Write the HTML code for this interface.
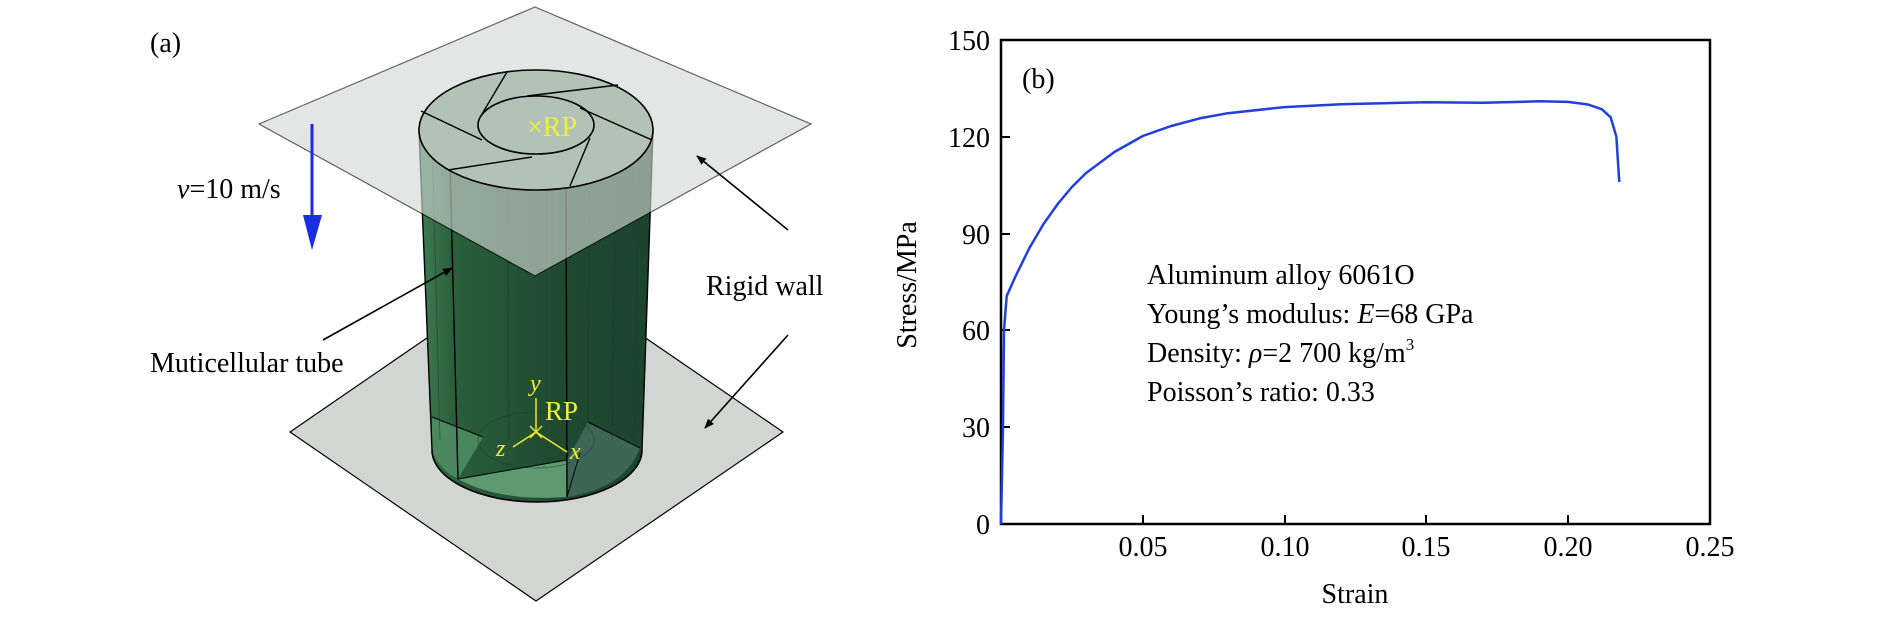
<!DOCTYPE html>
<html><head><meta charset="utf-8"><style>
html,body{margin:0;padding:0;background:#fff;}
svg{display:block;}
text{font-family:"Liberation Serif","DejaVu Serif",serif;}
</style></head><body>
<svg width="1890" height="622" viewBox="0 0 1890 622" xmlns="http://www.w3.org/2000/svg" font-family="Liberation Serif, serif">
<defs>
<linearGradient id="body" x1="0" x2="1" y1="0" y2="0">
<stop offset="0" stop-color="#3f7d52"/><stop offset="0.15" stop-color="#2a5e3c"/><stop offset="0.6" stop-color="#1f4a30"/><stop offset="1" stop-color="#1c4430"/>
</linearGradient>
<marker id="ah" markerWidth="10" markerHeight="8" refX="9" refY="4" orient="auto" markerUnits="userSpaceOnUse">
<path d="M0,0 L10,4 L0,8 z" fill="#000"/>
</marker>
</defs>

<text x="150" y="52" font-size="28">(a)</text>

<!-- lower plate -->
<polygon points="290,432 536,263 783,432 536,601" fill="#d1d6d3" stroke="#000" stroke-width="1.2"/>

<!-- cylinder body -->
<path d="M419,130 L432,450 A105,52 0 0 0 642,450 L653,130 Z" fill="url(#body)"/>
<path d="M432,417 L483,437 L458,479 Q440,470 432,450 Z" fill="#4f8c62" opacity="0.9"/>
<path d="M458,479 L567,460 L567,497 Q500,502 458,479 Z" fill="#5e9a6f"/>
<path d="M567,460 L588,422 L640,448 Q625,488 567,497 Z" fill="#3d6656"/>
<ellipse cx="536" cy="440" rx="58" ry="28" fill="none" stroke="#17392a" stroke-width="0.8" opacity="0.6"/>
<path d="M432,450 A105,52 0 0 0 642,450" fill="none" stroke="#000" stroke-width="1.6"/>
<line x1="432" y1="417" x2="483" y2="437" stroke="#000" stroke-width="1"/>
<line x1="458" y1="479" x2="567" y2="460" stroke="#000" stroke-width="1"/>
<line x1="567" y1="497" x2="580" y2="453" stroke="#000" stroke-width="1"/>
<line x1="588" y1="422" x2="640" y2="448" stroke="#000" stroke-width="1"/>
<line x1="450" y1="165" x2="458" y2="479" stroke="#000" stroke-width="1.4"/>
<line x1="566" y1="185" x2="567" y2="497" stroke="#000" stroke-width="1.4"/>
<g stroke="#1a3a2a" stroke-width="0.7" opacity="0.7">
<line x1="507" y1="72" x2="509" y2="440"/><line x1="617" y1="85" x2="612" y2="440"/>
<line x1="552" y1="100" x2="552" y2="440"/><line x1="590" y1="140" x2="588" y2="422"/>
<line x1="432" y1="140" x2="440" y2="440"/><line x1="640" y1="140" x2="634" y2="440"/>
</g>
<line x1="419" y1="130" x2="432" y2="450" stroke="#000" stroke-width="1.4"/>
<line x1="653" y1="130" x2="642" y2="450" stroke="#000" stroke-width="1.4"/>

<!-- top face -->
<ellipse cx="536" cy="130" rx="117" ry="60" fill="#80a08a"/>

<!-- top plate -->
<polygon points="259,124 535,7 811,124 535,276" fill="#d3d8d4" opacity="0.62" stroke="#000" stroke-width="1.2"/>

<ellipse cx="536" cy="130" rx="117" ry="60" fill="none" stroke="#000" stroke-width="1.6"/>
<ellipse cx="536" cy="125" rx="58" ry="29" fill="none" stroke="#000" stroke-width="1.6"/>
<g stroke="#000" stroke-width="1.4">
<line x1="507" y1="72" x2="482" y2="114"/>
<line x1="618" y1="85" x2="527" y2="96"/>
<line x1="652" y1="140" x2="580" y2="108"/>
<line x1="590" y1="138" x2="570" y2="186"/>
<line x1="448" y1="170" x2="532" y2="157"/>
<line x1="421" y1="111" x2="482" y2="140"/>
</g>
<text x="527" y="136" font-size="28" fill="#f0f030">×RP</text>

<g stroke="#e8e830" stroke-width="1.5">
<line x1="536" y1="398" x2="536" y2="432"/>
<line x1="536" y1="432" x2="513" y2="447"/>
<line x1="536" y1="432" x2="567" y2="452"/>
<line x1="530" y1="426" x2="542" y2="438"/><line x1="542" y1="426" x2="530" y2="438"/>
</g>
<text x="530" y="391" font-size="24" font-style="italic" fill="#f0f030">y</text>
<text x="545" y="420" font-size="27" fill="#f0f030">RP</text>
<text x="496" y="456" font-size="24" font-style="italic" fill="#f0f030">z</text>
<text x="570" y="459" font-size="24" font-style="italic" fill="#f0f030">x</text>

<line x1="312" y1="124" x2="312" y2="218" stroke="#1a2ee0" stroke-width="3"/>
<polygon points="303,215 322,215 312,250" fill="#1a2ee0"/>
<text x="177" y="198" font-size="28"><tspan font-style="italic">v</tspan>=10 m/s</text>

<text x="150" y="372" font-size="28">Muticellular tube</text>
<line x1="323" y1="340" x2="452" y2="268" stroke="#000" stroke-width="1.6" marker-end="url(#ah)"/>
<text x="706" y="295" font-size="28">Rigid wall</text>
<line x1="788" y1="230" x2="697" y2="156" stroke="#000" stroke-width="1.6" marker-end="url(#ah)"/>
<line x1="788" y1="335" x2="705" y2="428" stroke="#000" stroke-width="1.6" marker-end="url(#ah)"/>

<!-- (b) plot -->
<rect x="1001" y="40" width="709" height="484" fill="none" stroke="#000" stroke-width="2.5"/>
<g stroke="#000" stroke-width="2">
<line x1="1001" y1="427" x2="1010" y2="427"/><line x1="1001" y1="330" x2="1010" y2="330"/>
<line x1="1001" y1="234" x2="1010" y2="234"/><line x1="1001" y1="137" x2="1010" y2="137"/>
<line x1="1143" y1="524" x2="1143" y2="515"/><line x1="1285" y1="524" x2="1285" y2="515"/>
<line x1="1426" y1="524" x2="1426" y2="515"/><line x1="1568" y1="524" x2="1568" y2="515"/>
</g>
<g font-size="28" text-anchor="end">
<text x="990" y="50">150</text><text x="990" y="147">120</text><text x="990" y="244">90</text>
<text x="990" y="340">60</text><text x="990" y="437">30</text><text x="990" y="534">0</text>
</g>
<g font-size="28" text-anchor="middle">
<text x="1143" y="556">0.05</text><text x="1285" y="556">0.10</text><text x="1426" y="556">0.15</text>
<text x="1568" y="556">0.20</text><text x="1710" y="556">0.25</text>
<text x="1355" y="603">Strain</text>
</g>
<text transform="translate(916,285) rotate(-90)" font-size="28" text-anchor="middle">Stress/MPa</text>
<text x="1022" y="88" font-size="28">(b)</text>
<g font-size="28">
<text x="1147" y="284">Aluminum alloy 6061O</text>
<text x="1147" y="323">Young’s modulus: <tspan font-style="italic">E</tspan>=68 GPa</text>
<text x="1147" y="362">Density: <tspan font-style="italic">ρ</tspan>=2 700 kg/m<tspan font-size="17" dy="-12">3</tspan></text>
<text x="1147" y="401">Poisson’s ratio: 0.33</text>
</g>
<polyline fill="none" stroke="#1f3fe0" stroke-width="2.5" stroke-linejoin="round" points="1001,524 1003,427 1004,330 1006.7,296 1015.2,277 1029.4,248 1043.5,224 1057.7,204 1071.9,187 1086.1,173 1114.4,152 1142.8,136 1171.2,126 1199.5,118.4 1227.9,113.2 1284.6,107.1 1341.3,104.2 1426.4,102.2 1483,102.8 1539.8,101.3 1568,101.9 1588,104.5 1602,109.3 1610.7,117.4 1616.4,136.8 1617.8,159.3 1619.3,182"/>
</svg>
</body></html>
